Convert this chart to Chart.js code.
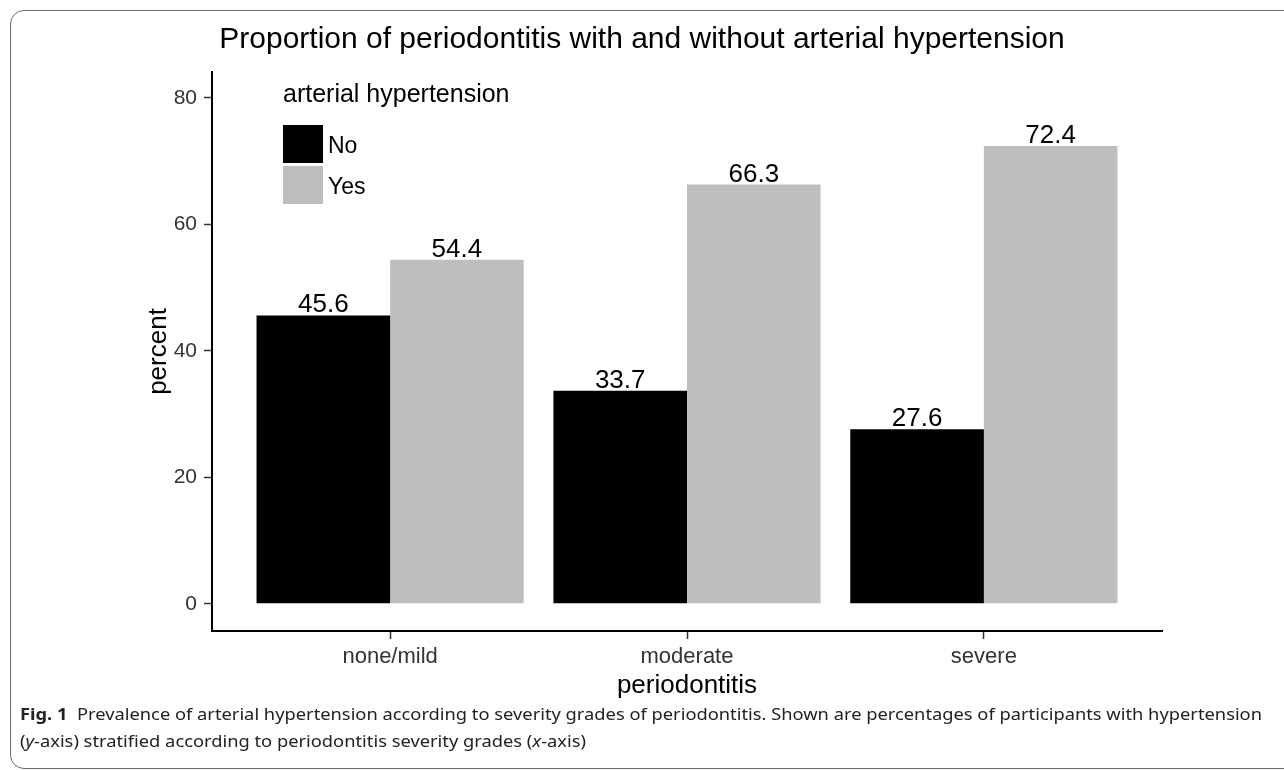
<!DOCTYPE html>
<html><head><meta charset="utf-8">
<script src="https://cdn.jsdelivr.net/npm/chart.js@4.4.1/dist/chart.umd.min.js"></script>
<style>
html,body{margin:0;padding:0;background:#fff;width:1284px;height:770px;overflow:hidden;}
#wrap{position:relative;width:1284px;height:770px;overflow:hidden;}
#frame{position:absolute;left:10px;top:10px;width:1400px;height:759px;border:1.5px solid #6b6b6b;border-radius:14px;box-sizing:border-box;}
canvas{position:absolute;left:0;top:0;}
#caption{position:absolute;left:20px;top:700px;font-family:"Noto Sans",sans-serif;font-size:16.5px;line-height:27px;color:#222;white-space:nowrap;}
#caption span{display:inline-block;transform-origin:0 50%;}
</style></head>
<body><div id="wrap"><div id="frame"></div><canvas id="c" width="1284" height="770"></canvas>
<div id="caption"><span id="l1"><b>Fig. 1</b>&nbsp;&nbsp;Prevalence of arterial hypertension according to severity grades of periodontitis. Shown are percentages of participants with hypertension</span><br><span id="l2">(<i>y</i>-axis) stratified according to periodontitis severity grades (<i>x</i>-axis)</span></div>
</div>
<script>
const categories = ['none/mild', 'moderate', 'severe'];
const seriesNames = ['No', 'Yes'];
const noValues = [45.6, 33.7, 27.6];
const yesValues = [54.4, 66.3, 72.4];
const yTicks = [0, 20, 40, 60, 80];
const seriesColors = ['#000000', '#bebebe'];

const FONT = '"Liberation Sans", Arial, sans-serif';

const barLabels = {
  id: 'barLabels',
  afterDatasetsDraw(chart) {
    const ctx = chart.ctx;
    ctx.save();
    ctx.font = '26px ' + FONT;
    ctx.fillStyle = '#000';
    ctx.textAlign = 'center';
    ctx.textBaseline = 'alphabetic';
    chart.data.datasets.forEach((ds, di) => {
      chart.getDatasetMeta(di).data.forEach((bar, i) => {
        ctx.fillText(ds.data[i].y.toFixed(1), bar.x, bar.y - 3);
      });
    });
    ctx.restore();
  }
};

const innerLegend = {
  id: 'innerLegend',
  afterDraw(chart) {
    const ctx = chart.ctx, ca = chart.chartArea;
    ctx.save();
    const x0 = ca.left + 71;
    ctx.fillStyle = '#000';
    ctx.font = '25px ' + FONT;
    ctx.textAlign = 'left';
    ctx.textBaseline = 'alphabetic';
    ctx.fillText('arterial hypertension', x0, ca.top + 30);
    ctx.font = '23px ' + FONT;
    ctx.textBaseline = 'middle';
    chart.data.datasets.forEach((ds, i) => {
      const y = ca.top + 53 + i * 41;
      ctx.fillStyle = ds.backgroundColor;
      ctx.fillRect(x0, y, 40, 38);
      ctx.fillStyle = '#000';
      ctx.fillText(ds.label, x0 + 45, y + 22);
    });
    ctx.restore();
  }
};

new Chart(document.getElementById('c'), {
  type: 'bar',
  data: {
    datasets: [
      { label: seriesNames[0], data: noValues.map((v, i) => ({ x: i + 1, y: v })), backgroundColor: seriesColors[0] },
      { label: seriesNames[1], data: yesValues.map((v, i) => ({ x: i + 1, y: v })), backgroundColor: seriesColors[1] }
    ]
  },
  options: {
    responsive: false,
    animation: false,
    categoryPercentage: 0.9,
    barPercentage: 1.0,
    borderWidth: 0,
    layout: { padding: { left: 0, right: 0, top: 0, bottom: 69 } },
    plugins: {
      legend: { display: false },
      tooltip: { enabled: false },
      title: {
        display: true,
        text: 'Proportion of periodontitis with and without arterial hypertension',
        font: { family: FONT, size: 30, weight: 'normal' },
        color: '#000',
        padding: { top: 22, bottom: 14 }
      }
    },
    scales: {
      x: {
        type: 'linear',
        offset: false,
        min: 0.4, max: 3.6,
        afterBuildTicks: (s) => { s.ticks = categories.map((c, i) => ({ value: i + 1 })); },
        afterFit: (s) => { s.height = 70; },
        ticks: {
          callback: (v) => categories[Math.round(v) - 1] || '',
          font: { family: FONT, size: 22 }, color: '#333', padding: 5, maxRotation: 0, autoSkip: false
        },
        grid: { offset: false, drawOnChartArea: false, drawTicks: true, tickLength: 8, tickColor: '#333', tickWidth: 1.5 },
        border: { display: true, color: '#000', width: 2 },
        title: { display: true, text: 'periodontitis', font: { family: FONT, size: 26 }, color: '#000', padding: { top: 0, bottom: 0 } }
      },
      y: {
        min: -4.3, max: 84.1,
        afterBuildTicks: (s) => { s.ticks = yTicks.map(v => ({ value: v })); },
        afterFit: (s) => { s.width = 212; },
        ticks: { font: { family: FONT, size: 21 }, color: '#333', padding: 7 },
        grid: { drawOnChartArea: false, drawTicks: true, tickLength: 8, tickColor: '#333', tickWidth: 1.5 },
        border: { display: true, color: '#000', width: 2 },
        title: { display: true, text: 'percent', font: { family: FONT, size: 26 }, color: '#000', padding: { top: 143, bottom: 0 } }
      },
      yPad: {
        position: 'right',
        display: true,
        afterFit: (s) => { s.width = 122; },
        ticks: { display: false },
        grid: { display: false, drawTicks: false },
        border: { display: false }
      }
    }
  },
  plugins: [barLabels, innerLegend]
});

// fit caption lines to the reference widths
const l1 = document.getElementById('l1'), l2 = document.getElementById('l2');
const r = 1242 / l1.getBoundingClientRect().width;
l1.style.transform = 'scaleX(' + r + ')';
l2.style.transform = 'scaleX(' + r + ')';
</script>
</body></html>
